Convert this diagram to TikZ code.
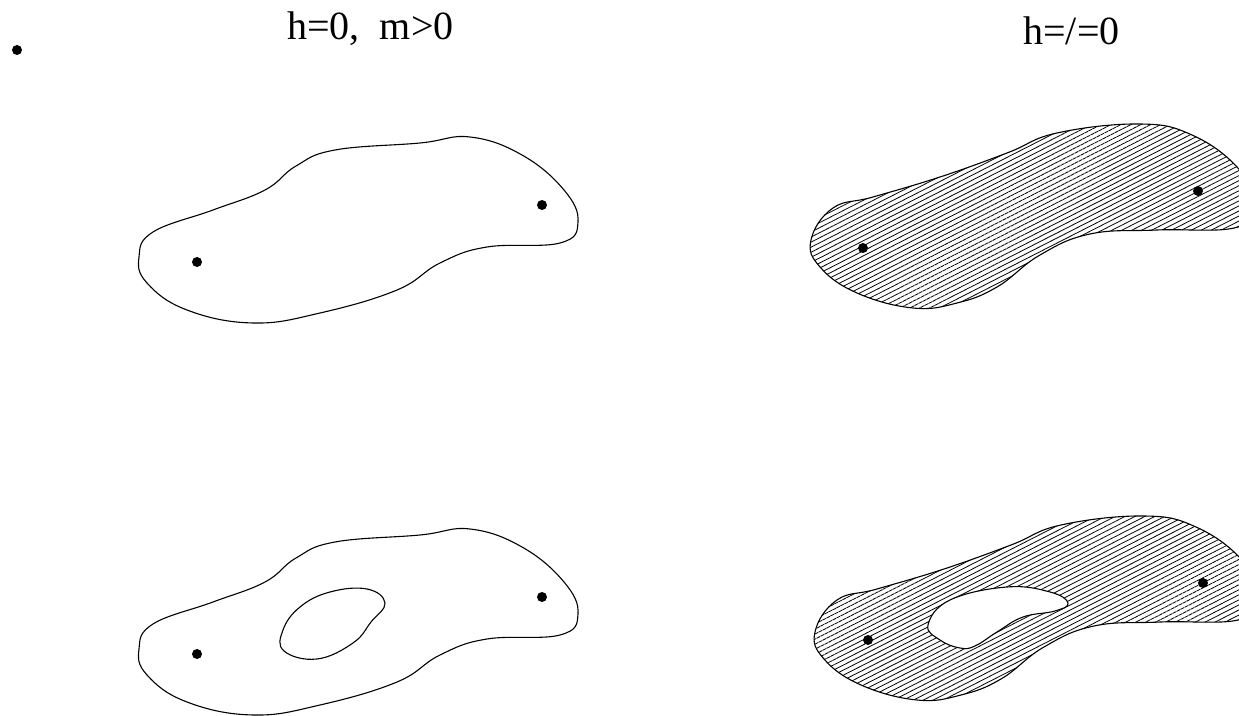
\documentclass[tikz,border=0pt]{standalone}
\usepackage{fontspec}
\setmainfont{Liberation Serif}
\usetikzlibrary{patterns.meta}

\begin{document}
\begin{tikzpicture}[
 x=0.5pt,y=-0.5pt,
 font=\fontsize{20}{24}\selectfont,
 blob/.style={draw=black,line width=0.55pt,smooth cycle,tension=0.7},
 hatch/.style={pattern={Lines[angle=27,distance=2.25pt,line width=0.4pt]}},
 dot/.style={circle,fill=black,inner sep=0pt,minimum size=5pt},
 label/.style={anchor=base west,inner sep=0pt}
]
\useasboundingbox (0,0) rectangle (1239,716);
\node[dot] (bullet) at (17,50) {};
\node[label] (left) at (287,40) {h=0,\ \ m>0};
\node[label] (right) at (1023,45) {h=/=0};

% massive case: plain outlines
\foreach \dy in {0,392}
 \draw[blob,yshift=-\dy*0.5pt] plot coordinates {(139,257) (153,232) (213,210) (265,190) (296,166) (335,150) (420,143) (470,137) (522,155) (564,190) (578,222) (560,243) (487,247) (440,263) (397,290) (320,313) (253,323) (187,310) (147,283)};
\draw[blob] plot coordinates {(367,589) (385,603) (371,622) (353,643) (317,659) (284,651) (283,630) (300,607) (330,592)};

% h nonzero: hatched
\foreach \dx/\dy in {0/0,4/392}
 \draw[blob,hatch,xshift=\dx*0.5pt,yshift=-\dy*0.5pt] plot coordinates {(811,240) (833,208) (873,197) (940,177) (1007,153) (1057,133) (1140,124) (1192,135) (1237,167) (1252,200) (1238,227) (1157,230) (1090,234) (1040,255) (997,287) (957,303) (913,308) (857,293) (820,267)};
\draw[blob,fill=white] plot coordinates {(928,625) (950,600) (1007,587) (1050,592) (1068,603) (1055,611) (1023,617) (997,632) (975,646) (960,648) (940,640)};

\foreach \n/\p in {a/{(197,262)},b/{(542,205)},c/{(197,654)},d/{(542,597)},e/{(863,248)},f/{(1198,191)},g/{(868,640)},h/{(1203,583)}}
 \node[dot] (p\n) at \p {};
\end{tikzpicture}
\end{document}
